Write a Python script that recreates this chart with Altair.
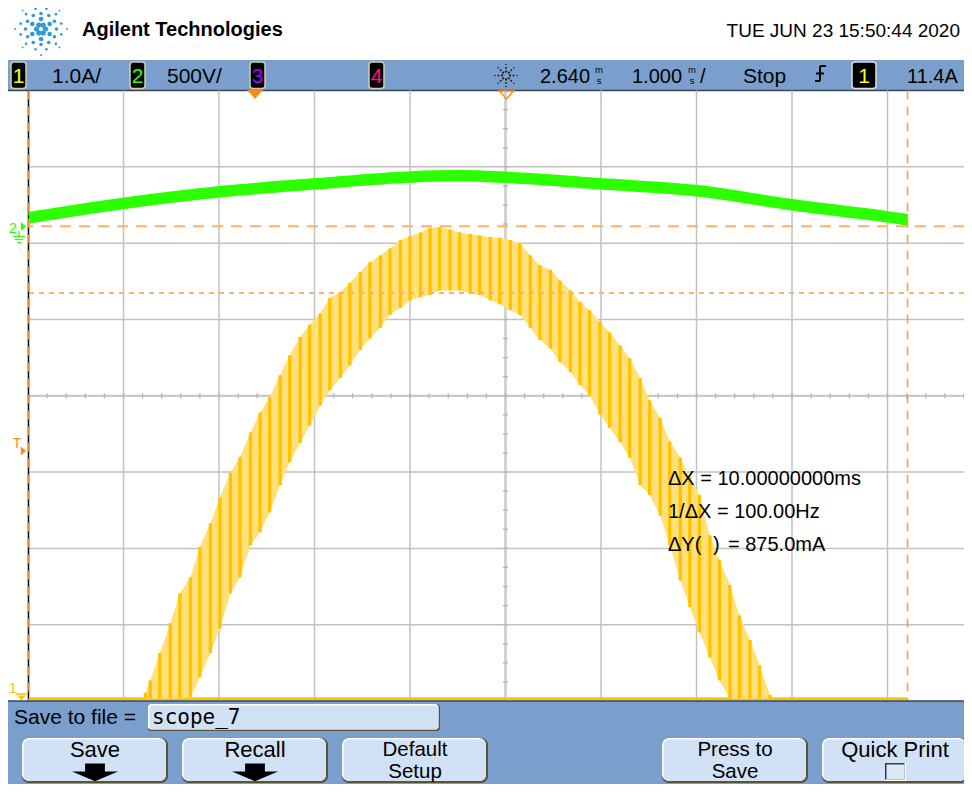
import math
import altair as alt
import pandas as pd

# ---------------- values read from the oscilloscope screen ----------------
# timebase: delay 2.640 ms, 1.000 ms/div  -> left edge of the graticule
T_LEFT = -2.36
PX_PER_MS = 95.5
PX_PER_DIV = 76.3125
# channel ground levels (divisions above the bottom of the graticule)
CH1_GND_DIV = 0.03
CH2_GND_DIV = 6.22
CH1_PER_DIV = 1.0     # A/div
CH2_PER_DIV = 500.0   # V/div

# channel 2 (green): time (ms) and volts
green_t = [-2.35, -1.35, -0.35, 0.66, 1.65, 2.16, 2.65, 3.64, 4.65, 5.64, 6.64, 6.85]
green_v = [56, 151, 226, 279, 324, 331, 321, 279, 233, 141, 62, 43]

# channel 1 (yellow): chopped current, upper / lower envelope in A
yel_t = [-1.13, -1.08, -0.98, -0.87, -0.77, -0.66, -0.56, -0.45, -0.35, -0.24,
         -0.14, -0.03, 0.07, 0.17, 0.28, 0.38, 0.49, 0.59, 0.70, 0.80,
         0.91, 1.01, 1.12, 1.22, 1.33, 1.43, 1.54, 1.64, 1.75, 1.85,
         1.95, 2.06, 2.16, 2.27, 2.37, 2.48, 2.58, 2.69, 2.79, 2.90,
         3.00, 3.11, 3.21, 3.32, 3.42, 3.52, 3.63, 3.73, 3.84, 3.94,
         4.05, 4.15, 4.26, 4.36, 4.47, 4.57, 4.67, 4.78, 4.88, 4.99,
         5.09, 5.20, 5.30, 5.41]
yel_hi = [0.08, 0.24, 0.60, 0.99, 1.38, 1.59, 1.99, 2.30, 2.64, 2.96,
          3.17, 3.49, 3.75, 3.95, 4.24, 4.50, 4.74, 4.90, 5.05, 5.25,
          5.33, 5.45, 5.59, 5.72, 5.81, 5.90, 6.01, 6.06, 6.11, 6.17,
          6.18, 6.15, 6.11, 6.09, 6.07, 6.05, 6.04, 6.01, 5.97, 5.81,
          5.68, 5.62, 5.48, 5.35, 5.20, 5.09, 4.94, 4.80, 4.63, 4.46,
          4.20, 3.91, 3.68, 3.37, 3.16, 2.90, 2.67, 2.14, 1.82, 1.49,
          1.09, 0.77, 0.44, 0.05]
yel_lo = [0.00, 0.00, 0.00, 0.00, 0.00, 0.02, 0.28, 0.60, 0.92, 1.38,
          1.59, 2.01, 2.18, 2.44, 2.80, 3.10, 3.35, 3.58, 3.84, 4.04,
          4.20, 4.37, 4.57, 4.72, 4.86, 5.03, 5.12, 5.22, 5.26, 5.29,
          5.35, 5.35, 5.35, 5.31, 5.29, 5.22, 5.17, 5.09, 5.03, 4.86,
          4.70, 4.59, 4.41, 4.28, 4.11, 3.98, 3.72, 3.55, 3.36, 3.16,
          2.80, 2.67, 2.40, 2.01, 1.55, 1.20, 0.87, 0.54, 0.24, 0.00,
          0.00, 0.00, 0.00, 0.00]
ch1_rec_t = [-2.35, 6.85]          # record start / end (flat 0 A parts)
ch1_rec_a = [0.0, 0.0]
cursor_x_ms = [-2.35, 6.85]
cursor_y_a = [6.19, 5.315]          # dY = 875 mA

# ---------------- styling ----------------
FONT = "Liberation Sans, Arial, sans-serif"
MONO = "DejaVu Sans Mono, Liberation Mono, monospace"
BLUE = "#7b9fcd"
BTN = "#d1e2f6"
GRID = "#c2c2c2"
YEL = "#ffc400"
YEL_L = "#ffe07a"
GREEN = "#2cff00"
ORANGE = "#ff8c1a"
CUR = "#ffb06a"

W, H = 936, 610.5
OX, OY = 28.0, 90.5   # page position of the graticule's top-left corner
XS = alt.Scale(domain=[T_LEFT, T_LEFT + W / PX_PER_MS], nice=False, zero=False)
YS = alt.Scale(domain=[0, 8], nice=False, zero=False)
ONE = pd.DataFrame({"k": [0]})


def X(f):
    return alt.X(f, type="quantitative", scale=XS, axis=None)


def Y(f):
    return alt.Y(f, type="quantitative", scale=YS, axis=None)


def txt(s, x, y, size=21, color="#000000", font=FONT, weight="normal", align="left"):
    return alt.Chart(ONE).mark_text(text=s, fontSize=size, color=color, font=font,
                                    fontWeight=weight, align=align, baseline="alphabetic"
                                    ).encode(x=alt.value(x - OX), y=alt.value(y - OY))


def rect(x1, y1, x2, y2, fill, r=0, stroke=None, sw=1.0):
    kw = dict(fill=fill, cornerRadius=r, opacity=1)
    if stroke:
        kw.update(stroke=stroke, strokeWidth=sw)
    return alt.Chart(ONE).mark_rect(**kw).encode(
        x=alt.value(x1 - OX), x2=alt.value(x2 - OX), y=alt.value(y1 - OY), y2=alt.value(y2 - OY))


def seg(x1, y1, x2, y2, color, w=1.5, dash=None):
    kw = dict(color=color, strokeWidth=w)
    if dash:
        kw["strokeDash"] = dash
    return alt.Chart(ONE).mark_rule(**kw).encode(
        x=alt.value(x1 - OX), x2=alt.value(x2 - OX), y=alt.value(y1 - OY), y2=alt.value(y2 - OY))


def sym(x, y, shape, size, color, filled=True, sw=1.5):
    kw = dict(shape=shape, size=size, filled=filled, opacity=1, color=color)
    if not filled:
        kw["strokeWidth"] = sw
    return alt.Chart(ONE).mark_point(**kw).encode(x=alt.value(x - OX), y=alt.value(y - OY))


def to_t(px):
    return T_LEFT + (px - OX) / PX_PER_MS


def to_d(py):
    return (OY + H - py) / PX_PER_DIV


layers = []

# ---------------- header ----------------
logo = []
for r, n, rad, off in [(4.5, 6, 2.9, 0), (10, 6, 2.6, 30), (15.5, 12, 2.0, 0), (21, 12, 1.5, 15), (26, 8, 1.1, 0)]:
    for k in range(n):
        a = math.radians(off + 360 * k / n)
        logo.append({"t": to_t(41 + r * math.cos(a)), "d": to_d(29 + r * math.sin(a)), "s": math.pi * rad * rad})
layers.append(alt.Chart(pd.DataFrame(logo)).mark_circle(color="#2e9bd3", opacity=1).encode(
    x=X("t"), y=Y("d"), size=alt.Size("s:Q", scale=None, legend=None)))
layers.append(txt("Agilent Technologies", 82, 36, size=20, weight="bold"))
layers.append(txt("TUE JUN 23 15:50:44 2020", 960, 37, size=19, align="right"))

# status bar
layers.append(rect(8, 60, 964, 90.5, BLUE))
layers.append(seg(8, 90.5, 964, 90.5, "#3a4458", 1.5))
for (x1, x2, digit, col) in [(11, 26, "1", "#ffff00"), (130, 145, "2", GREEN),
                             (250, 265, "3", "#a400ff"), (369, 384, "4", "#ff1080")]:
    layers.append(rect(x1, 62, x2, 88.5, "#000000", r=3, stroke="#cfcfb0", sw=1.5))
    layers.append(txt(digit, (x1 + x2) / 2, 83, size=21, color=col, align="center"))
layers.append(txt("1.0A/", 52, 83))
layers.append(txt("500V/", 167, 83))
sun = []
for k in range(8):
    a = math.radians(45 * k)
    for r, rad in [(4, 1.3), (7.5, 1.1), (11, 0.9)]:
        sun.append({"t": to_t(506 + r * math.cos(a)), "d": to_d(75.5 + r * math.sin(a)), "s": math.pi * rad * rad})
layers.append(alt.Chart(pd.DataFrame(sun)).mark_circle(color="#222222", opacity=1).encode(
    x=X("t"), y=Y("d"), size=alt.Size("s:Q", scale=None, legend=None)))
layers.append(txt("2.640", 540, 83, size=20))
layers.append(txt("m", 599, 72.5, size=9.5, align="center"))
layers.append(txt("s", 599, 84, size=9.5, align="center"))
layers.append(txt("1.000", 632, 83, size=20))
layers.append(txt("m", 692, 72.5, size=9.5, align="center"))
layers.append(txt("s", 692, 84, size=9.5, align="center"))
layers.append(txt("/", 700, 83, size=20))
layers.append(txt("Stop", 743, 83))
layers.append(seg(815, 81, 820, 81, "#000", 2))
layers.append(seg(820, 81, 820, 66, "#000", 2))
layers.append(seg(820, 66, 826, 66, "#000", 2))
layers.append(seg(816, 73.5, 824, 73.5, "#000", 2))
layers.append(rect(852, 62, 876, 88.5, "#000000", r=3, stroke="#e0e0e0", sw=1.5))
layers.append(txt("1", 864, 83, color="#ffff00", align="center"))
layers.append(txt("11.4A", 907, 83, size=20))

# ---------------- graticule ----------------
vgrid = pd.DataFrame({"t": [T_LEFT + k for k in range(1, 10)]})
hgrid = pd.DataFrame({"d": list(range(1, 8))})
layers.append(alt.Chart(vgrid).mark_rule(color=GRID, strokeWidth=1.5).encode(x=X("t")))
layers.append(alt.Chart(hgrid).mark_rule(color=GRID, strokeWidth=1.5).encode(y=Y("d")))
layers.append(alt.Chart(pd.DataFrame({"t": [T_LEFT + 5]})).mark_rule(color="#cdcdcd", strokeWidth=2.5).encode(x=X("t")))
layers.append(alt.Chart(pd.DataFrame({"d": [4]})).mark_rule(color="#c6c6c6", strokeWidth=2.2).encode(y=Y("d")))
cy = H / 2
cx = 5 * PX_PER_MS
htk = pd.DataFrame({"t": [T_LEFT + 0.2 * k for k in range(1, 50)]})
vtk = pd.DataFrame({"d": [0.25 * k for k in range(1, 32)]})
layers.append(alt.Chart(htk).mark_rule(color="#b4b4b4", strokeWidth=1.3).encode(
    x=X("t"), y=alt.value(cy - 2.5), y2=alt.value(cy + 2.5)))
layers.append(alt.Chart(vtk).mark_rule(color="#b4b4b4", strokeWidth=1.3).encode(
    y=Y("d"), x=alt.value(cx - 2.5), x2=alt.value(cx + 2.5)))
layers.append(alt.Chart(pd.DataFrame({"t": [T_LEFT + 0.005]})).mark_rule(color="#000000", strokeWidth=1.5).encode(x=X("t")))

# ---------------- traces ----------------
ydf = pd.DataFrame({"t": yel_t,
                    "hi": [v / CH1_PER_DIV + CH1_GND_DIV for v in yel_hi],
                    "lo": [v / CH1_PER_DIV + CH1_GND_DIV for v in yel_lo]})
zdf = pd.DataFrame({"t": ch1_rec_t, "d": [v / CH1_PER_DIV + CH1_GND_DIV for v in ch1_rec_a]})
gdf = pd.DataFrame({"t": green_t, "d": [v / CH2_PER_DIV + CH2_GND_DIV for v in green_v]})
layers.append(alt.Chart(zdf).mark_line(color=YEL, strokeWidth=3).encode(x=X("t"), y=Y("d")))
layers.append(alt.Chart(ydf).mark_area(color=YEL_L, opacity=1).encode(x=X("t"), y=Y("hi"), y2=alt.Y2("lo")))
layers.append(alt.Chart(ydf).mark_rule(color=YEL, strokeWidth=3.4).encode(x=X("t"), y=Y("hi"), y2=alt.Y2("lo")))
layers.append(alt.Chart(gdf).mark_line(color=GREEN, strokeWidth=11.5, interpolate="monotone", strokeCap="butt").encode(
    x=X("t"), y=Y("d")))

# ---------------- cursors ----------------
cyd = [v / CH1_PER_DIV + CH1_GND_DIV for v in cursor_y_a]
layers.append(alt.Chart(pd.DataFrame({"d": [cyd[0]]})).mark_rule(color=CUR, strokeWidth=2, strokeDash=[11, 8]).encode(y=Y("d")))
layers.append(alt.Chart(pd.DataFrame({"d": [cyd[1]]})).mark_rule(color=CUR, strokeWidth=2, strokeDash=[5, 5]).encode(y=Y("d")))
layers.append(alt.Chart(pd.DataFrame({"t": cursor_x_ms})).mark_rule(color="#ff9a45", strokeWidth=1.6, strokeDash=[9, 7]).encode(x=X("t")))

# markers on the graticule edges
layers.append(sym(255, 94.5, "M -1 -0.56 L 1 -0.56 L 0 0.56 Z", 256, ORANGE))
layers.append(sym(506.5, 95, "M -1 -0.56 L 1 -0.56 L 0 0.56 Z", 196, ORANGE, filled=False))
layers.append(txt("2", 13, 233, size=15, color=GREEN, align="center"))
layers.append(sym(23.5, 226.5, "M -0.6 -1 L 0.6 0 L -0.6 1 Z", 80, GREEN))
layers.append(seg(19, 231, 19, 236, GREEN, 1.2))
layers.append(seg(13, 236.5, 25, 236.5, GREEN, 1.2))
layers.append(seg(15, 239.5, 23, 239.5, GREEN, 1.2))
layers.append(seg(17, 242.5, 21, 242.5, GREEN, 1.2))
layers.append(txt("T", 17, 448, size=14, color=ORANGE, align="center"))
layers.append(sym(23.5, 451, "M -0.6 -1 L 0.6 0 L -0.6 1 Z", 80, ORANGE))
layers.append(txt("1", 13, 693, size=14, color=YEL, align="center"))
layers.append(seg(16, 694, 27, 694, YEL, 1.5))
layers.append(sym(21.5, 698, "M -1 -0.6 L 1 -0.6 L 0 0.6 Z", 64, YEL))

# cursor readout
layers.append(txt("\u0394X = 10.00000000ms", 668, 485, size=20))
layers.append(txt("1/\u0394X = 100.00Hz", 668, 518, size=20))
layers.append(txt("\u0394Y(", 668, 551, size=20))
layers.append(txt(")", 713, 551, size=20))
layers.append(txt("= 875.0mA", 728, 551, size=20))

# ---------------- bottom soft-key panel ----------------
layers.append(rect(8, 701, 964, 784, BLUE))
layers.append(seg(8, 701, 964, 701, "#3a4458", 1.5))
layers.append(txt("Save to file =", 14, 724))
layers.append(rect(148, 704, 440, 731, "#5b5535", r=3))
layers.append(rect(148, 704, 438.5, 729.5, "#ffffff", r=3))
layers.append(rect(149.5, 705.5, 438.5, 729.5, BTN, r=3))
layers.append(txt("scope_7", 152, 724, size=21, font=MONO))

ARROW = "M -0.43 -0.35 L 0.43 -0.35 L 0.43 0 L 1 0 L 0 0.42 L -1 0 L -0.43 0 Z"
for x1, x2, lines, extra in [(22, 168, ["Save"], "arrow"), (182, 328, ["Recall"], "arrow"),
                             (342, 488, ["Default", "Setup"], None),
                             (662, 808, ["Press to", "Save"], None),
                             (822, 968, ["Quick Print"], "box")]:
    layers.append(rect(x1, 738, x2, 783, "#5b5535", r=7))
    layers.append(rect(x1, 738, x2 - 2, 781, "#ffffff", r=7))
    layers.append(rect(x1 + 1.5, 739.5, x2 - 2, 781, BTN, r=6))
    xc = (x1 + x2) / 2
    if len(lines) == 1:
        layers.append(txt(lines[0], xc, 757, size=22, align="center"))
    else:
        layers.append(txt(lines[0], xc, 756, size=20.5, align="center"))
        layers.append(txt(lines[1], xc, 778, size=20.5, align="center"))
    if extra == "arrow":
        layers.append(sym(xc, 771.5, ARROW, 2116, "#000000"))
    elif extra == "box":
        layers.append(rect(885, 763, 906, 781, "#ffffff"))
        layers.append(rect(885, 763, 904.5, 779.5, "#3a3a3a"))
        layers.append(rect(886.5, 764.5, 904.5, 779.5, "#dce8f6"))

chart = alt.layer(*layers).properties(
    width=W, height=H,
    padding={"left": 20, "top": 82.5, "right": 0, "bottom": 83},
    autosize=alt.AutoSizeParams(type="none"),
    background="#ffffff",
).configure_view(stroke=None)

chart.save("out.html", embed_options={"renderer": "svg", "actions": False})
